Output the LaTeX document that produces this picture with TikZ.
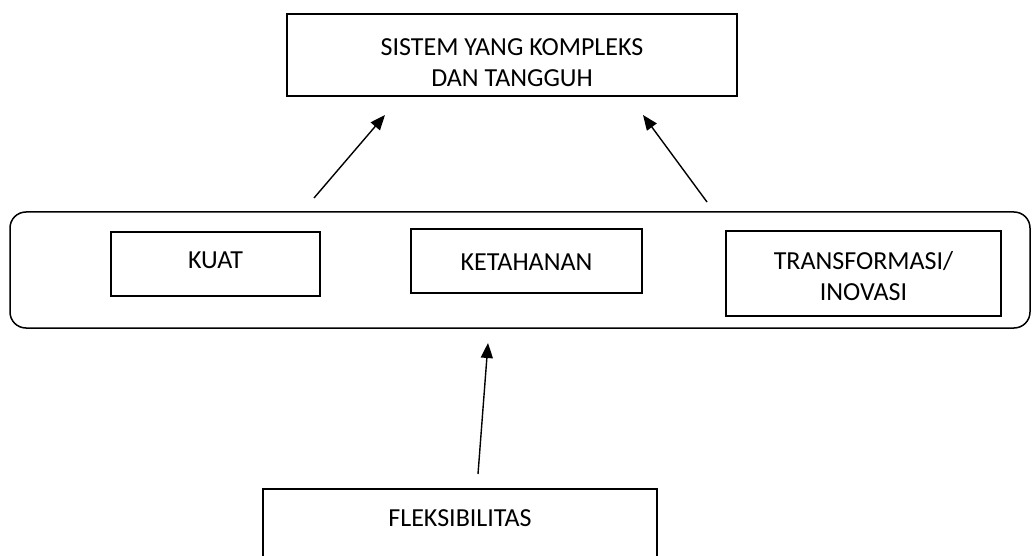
\documentclass[tikz,border=0pt]{standalone}
\usepackage{fontspec}
\setmainfont{Carlito}
\usetikzlibrary{arrows.meta}
\begin{document}
\begin{tikzpicture}[x=1pt,y=-1pt,
  box/.style={draw, line width=1.5pt, inner sep=0pt},
  lbl/.style={font=\fontsize{26}{31}\selectfont, align=center, inner sep=0pt},
  arr/.style={-{Triangle[length=15pt,width=12pt]}, line width=1.4pt}]
\useasboundingbox (0,0) rectangle (1034,556);
\clip (0,0) rectangle (1034,556);
% boxes
\node[box, minimum width=450pt, minimum height=82pt] (top) at (512,55) {};
\node[lbl] (toptxt) at (512,63) {SISTEM YANG KOMPLEKS\\DAN TANGGUH};
\node[box, rounded corners=16pt, minimum width=1020pt, minimum height=116pt] (row) at (520,270) {};
\node[box, minimum width=209pt, minimum height=64pt] (kuat) at (215.5,264) {};
\node[lbl] (kuattxt) at (215.5,260) {KUAT};
\node[box, minimum width=231pt, minimum height=64pt] (ketahanan) at (526.5,261) {};
\node[lbl] (ketahanantxt) at (526.5,262) {KETAHANAN};
\node[box, minimum width=275pt, minimum height=85pt] (trans) at (863.5,273.5) {};
\node[lbl] (transtxt) at (863.5,276) {TRANSFORMASI/\\INOVASI};
\node[box, minimum width=394pt, minimum height=91pt] (fleks) at (460,534.5) {};
\node[lbl] (flekstxt) at (460,518) {FLEKSIBILITAS};
% arrow ends
\coordinate (a1s) at (314,198);
\coordinate (a1e) at (385,115);
\coordinate (a2s) at (707,202);
\coordinate (a2e) at (643,115);
\coordinate (a3s) at (478,474);
\coordinate (a3e) at (488,343);
\draw[arr] (a1s) -- (a1e);
\draw[arr] (a2s) -- (a2e);
\draw[arr] (a3s) -- (a3e);
\end{tikzpicture}
\end{document}
